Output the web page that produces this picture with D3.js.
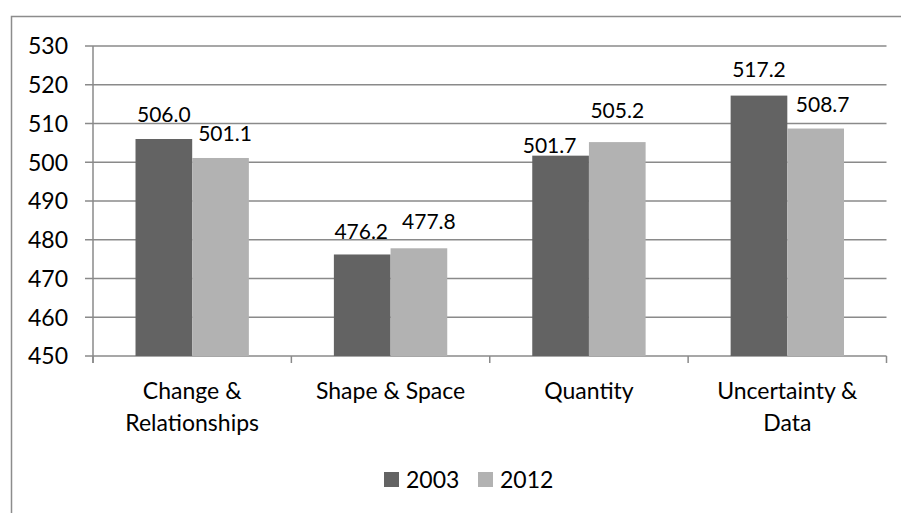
<!DOCTYPE html>
<html>
<head>
<meta charset="utf-8">
<script src="https://cdn.jsdelivr.net/npm/d3@7/dist/d3.min.js"></script>
<style>
  html, body { margin: 0; padding: 0; background: #fff; }
  svg { display: block; }
  text { font-family: Lato, "Open Sans", sans-serif; fill: #000; }
</style>
</head>
<body>
<svg id="chart" width="901" height="513"></svg>
<script>
// ---- data ----
const categories = [["Change &", "Relationships"], ["Shape & Space"], ["Quantity"], ["Uncertainty &", "Data"]];
const seriesNames = ["2003", "2012"];
const values2003 = [506.0, 476.2, 501.7, 517.2];
const values2012 = [501.1, 477.8, 505.2, 508.7];
const yTicks = [450, 460, 470, 480, 490, 500, 510, 520, 530];

// manual label nudges (layout only, px) as placed in the original
const labelNudge2003 = [[0, 0], [-1, 1.5], [-11, 14], [0, -1.5]];
const labelNudge2012 = [[4.5, 0], [10, -2], [0, -7], [7, 0]];

const colors = ["#636363", "#b2b2b2"];
const seriesValues = [values2003, values2012];
const nudges = [labelNudge2003, labelNudge2012];

const svg = d3.select("#chart");

// outer chart frame
svg.append("rect")
  .attr("x", 11.5).attr("y", 16.5)
  .attr("width", 1000).attr("height", 1000)
  .attr("fill", "none").attr("stroke", "#8c8c8c").attr("stroke-width", 1.5);

const plotLeft = 93, plotRight = 886.5, plotTop = 46, plotBottom = 356;

const y = d3.scaleLinear().domain([450, 530]).range([plotBottom, plotTop]);
const x = d3.scaleBand().domain(d3.range(categories.length)).range([plotLeft, plotRight]).padding(0);
const xs = d3.scaleBand().domain(d3.range(seriesNames.length)).range([0, x.bandwidth()])
  .paddingInner(0).paddingOuter(0.75);

// gridlines
svg.append("g").selectAll("line").data(yTicks).join("line")
  .attr("x1", plotLeft - 8).attr("x2", plotRight)
  .attr("y1", d => y(d)).attr("y2", d => y(d))
  .attr("stroke", "#8a8a8a").attr("stroke-width", 1.5);

// y axis line
svg.append("line")
  .attr("x1", plotLeft).attr("x2", plotLeft)
  .attr("y1", plotTop).attr("y2", plotBottom + 7)
  .attr("stroke", "#8a8a8a").attr("stroke-width", 1.5);

// y tick labels
svg.append("g").selectAll("text").data(yTicks).join("text")
  .attr("x", 68).attr("y", d => y(d))
  .attr("dy", "0.36em")
  .attr("text-anchor", "end")
  .style("font-size", "23px")
  .text(d => d);

// x category boundary ticks
const bounds = d3.range(categories.length + 1).map(i => i < categories.length ? x(i) : x(i - 1) + x.bandwidth());
svg.append("g").selectAll("line").data(bounds).join("line")
  .attr("x1", d => d).attr("x2", d => d)
  .attr("y1", plotBottom).attr("y2", plotBottom + 7)
  .attr("stroke", "#8a8a8a").attr("stroke-width", 1.5);

// bars
seriesValues.forEach((vals, s) => {
  svg.append("g").selectAll("rect").data(vals).join("rect")
    .attr("x", (d, i) => x(i) + xs(s))
    .attr("width", xs.bandwidth())
    .attr("y", d => y(d))
    .attr("height", d => plotBottom - y(d))
    .attr("fill", colors[s]);
});

// value labels
seriesValues.forEach((vals, s) => {
  svg.append("g").selectAll("text").data(vals).join("text")
    .attr("x", (d, i) => x(i) + xs(s) + xs.bandwidth() / 2 + nudges[s][i][0])
    .attr("y", (d, i) => y(d) - 17 + nudges[s][i][1])
    .attr("text-anchor", "middle")
    .style("font-size", "21px")
    .text(d => d.toFixed(1));
});

// category labels
const catG = svg.append("g").selectAll("text").data(categories).join("text")
  .attr("x", (d, i) => x(i) + x.bandwidth() / 2)
  .attr("y", 399)
  .attr("text-anchor", "middle")
  .style("font-size", "23px");
catG.selectAll("tspan").data(d => d).join("tspan")
  .attr("x", function () { return d3.select(this.parentNode).attr("x"); })
  .attr("dy", (d, i) => i === 0 ? 0 : 32)
  .text(d => d);

// legend
const legendItems = [{ x: 384, tx: 406 }, { x: 478, tx: 500 }];
const lg = svg.append("g");
seriesNames.forEach((name, s) => {
  lg.append("rect")
    .attr("x", legendItems[s].x).attr("y", 472)
    .attr("width", 15).attr("height", 15)
    .attr("fill", colors[s]);
  lg.append("text")
    .attr("x", legendItems[s].tx).attr("y", 488)
    .style("font-size", "23px")
    .text(name);
});
</script>
</body>
</html>
